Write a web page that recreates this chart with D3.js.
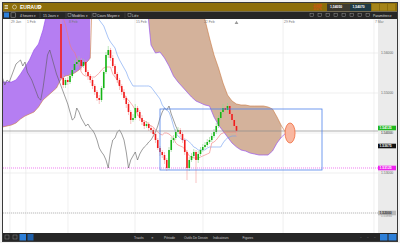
<!DOCTYPE html>
<html><head><meta charset="utf-8">
<script src="https://cdn.jsdelivr.net/npm/d3@7"></script>
<style>
html,body{margin:0;padding:0;background:#fff;}
svg{display:block;font-family:"Liberation Sans",Arial,sans-serif;}
</style></head><body>
<svg id="chart" width="400" height="243"></svg>
<script>
// 4h candles, bar index 0..78
const opens = [1.56725,1.55375,1.55200,1.55325,1.55275,1.55425,1.55575,1.55725,1.55775,1.55825,1.55675,1.55775,1.55525,1.55425,1.55325,1.55175,1.55025,1.54875,1.54825,1.55125,1.55525,1.55950,1.56075,1.55875,1.55675,1.55475,1.55325,1.55175,1.55025,1.54875,1.54725,1.54525,1.54325,1.54375,1.54625,1.54525,1.54375,1.54275,1.54175,1.54225,1.54125,1.54075,1.53975,1.53825,1.53625,1.53525,1.53450,1.53325,1.53125,1.53575,1.53825,1.53875,1.54025,1.54075,1.53975,1.53825,1.53525,1.53125,1.53325,1.53425,1.53525,1.53325,1.53475,1.53575,1.53650,1.53700,1.53775,1.53825,1.53925,1.54025,1.54175,1.54375,1.54525,1.54625,1.54575,1.54675,1.54475,1.54325,1.54175];
const closes = [1.55375,1.55200,1.55325,1.55275,1.55425,1.55575,1.55725,1.55775,1.55825,1.55675,1.55775,1.55525,1.55425,1.55325,1.55175,1.55025,1.54875,1.54825,1.55125,1.55525,1.55950,1.56075,1.55875,1.55675,1.55475,1.55325,1.55175,1.55025,1.54875,1.54725,1.54525,1.54325,1.54375,1.54625,1.54525,1.54375,1.54275,1.54175,1.54225,1.54125,1.54075,1.53975,1.53825,1.53625,1.53525,1.53450,1.53325,1.53125,1.53575,1.53825,1.53875,1.54025,1.54075,1.53975,1.53825,1.53525,1.53125,1.53325,1.53425,1.53525,1.53325,1.53475,1.53575,1.53650,1.53700,1.53775,1.53825,1.53925,1.54025,1.54175,1.54375,1.54525,1.54625,1.54575,1.54675,1.54475,1.54325,1.54175,1.54050];
const highs = [1.56875,1.55475,1.55375,1.55400,1.55500,1.55625,1.55825,1.55875,1.55925,1.55875,1.55850,1.55825,1.55575,1.55475,1.55375,1.55225,1.55075,1.54950,1.55175,1.55575,1.56025,1.56175,1.56125,1.55950,1.55725,1.55525,1.55375,1.55225,1.55100,1.54925,1.54775,1.54575,1.54475,1.54725,1.54675,1.54575,1.54450,1.54325,1.54300,1.54275,1.54200,1.54125,1.54025,1.53875,1.53675,1.53575,1.53525,1.53375,1.53650,1.53900,1.53950,1.54100,1.54150,1.54125,1.54025,1.53875,1.53575,1.53400,1.53500,1.53600,1.53575,1.53550,1.53650,1.53725,1.53775,1.53850,1.53900,1.54000,1.54100,1.54250,1.54450,1.54625,1.54725,1.54700,1.54750,1.54725,1.54525,1.54375,1.54225];
const lows = [1.55325,1.55125,1.55125,1.55200,1.55225,1.55375,1.55525,1.55650,1.55700,1.55575,1.55625,1.55450,1.55325,1.55250,1.55100,1.54950,1.54800,1.54725,1.54775,1.55075,1.55475,1.55875,1.55800,1.55625,1.55400,1.55250,1.55075,1.54950,1.54825,1.54625,1.54450,1.54225,1.54275,1.54325,1.54425,1.54300,1.54200,1.54100,1.54125,1.54050,1.54000,1.53900,1.53750,1.53575,1.53425,1.53375,1.53225,1.53050,1.53075,1.53525,1.53750,1.53825,1.53975,1.53900,1.53750,1.53450,1.52825,1.53050,1.53275,1.53375,1.52750,1.53250,1.53425,1.53525,1.53600,1.53650,1.53725,1.53775,1.53875,1.53975,1.54125,1.54325,1.54475,1.54500,1.54500,1.54400,1.54250,1.54100,1.53925];

// Ichimoku: tenkan / kijun per bar
const tenkan = [1.56950,1.56875,1.56700,1.56450,1.56200,1.56075,1.56025,1.55875,1.55700,1.55525,1.55450,1.55425,1.55425,1.55400,1.55400,1.55400,1.55450,1.55500,1.55575,1.55625,1.55650,1.55650,1.55650,1.55475,1.55400,1.55325,1.55175,1.55125,1.54975,1.54875,1.54825,1.54750,1.54675,1.54575,1.54475,1.54375,1.54325,1.54300,1.54275,1.54225,1.54175,1.54150,1.54075,1.54025,1.53975,1.53950,1.54000,1.54000,1.53975,1.53925,1.53875,1.53750,1.53700,1.53675,1.53650,1.53600,1.53525,1.53425,1.53400,1.53375,1.53375,1.53375,1.53400,1.53425,1.53450,1.53475,1.53500,1.53750,1.53775,1.53825,1.53900,1.53975,1.54000,1.54025,1.54025,1.54025,1.54025,1.54025,1.54025];
const kijun = [1.57200,1.57200,1.57200,1.57200,1.57200,1.57200,1.57200,1.57200,1.57200,1.57200,1.57200,1.57200,1.57200,1.57200,1.57200,1.57200,1.56950,1.56825,1.56750,1.56675,1.56525,1.56375,1.56275,1.56200,1.56125,1.55950,1.55825,1.55725,1.55625,1.55525,1.55375,1.55275,1.55175,1.55175,1.55175,1.55175,1.55175,1.55175,1.55175,1.55175,1.55150,1.55075,1.55000,1.54925,1.54850,1.54700,1.54625,1.54575,1.54525,1.54375,1.54175,1.54000,1.53925,1.53875,1.53825,1.53825,1.53825,1.53775,1.53725,1.53650,1.53625,1.53575,1.53575,1.53575,1.53575,1.53625,1.53650,1.53650,1.53650,1.53650,1.53650,1.53650,1.53750,1.53825,1.53875,1.53900,1.53925,1.53925,1.53925];

// cloud (senkou spans), bar index incl. 26-bar shift
const cloudIdx = [-26,-24,-22,-20,-18,-16,-14,-12,-10,-8,-6,-4,-2,0,2,4,6,8,10,12,13,14,20,30,38,39,40,42,44,46,48,50,52,54,56,58,60,62,63,64,66,68,70,72,74,76,78,80,82,84,86,88,90,92,94,96,98,100];
const spanA = [1.55275,1.55275,1.55275,1.55325,1.55475,1.55650,1.55825,1.56075,1.56225,1.56575,1.57075,1.57325,1.57450,1.57450,1.57450,1.57450,1.57450,1.57450,1.57450,1.57450,1.57450,1.57525,1.57575,1.57575,1.57575,1.56775,1.56200,1.56000,1.56025,1.55875,1.55675,1.55425,1.55275,1.55150,1.55025,1.54900,1.54800,1.54750,1.54725,1.54700,1.54675,1.54400,1.54200,1.54050,1.53900,1.53750,1.53650,1.53575,1.53550,1.53500,1.53475,1.53450,1.53450,1.53450,1.53550,1.53750,1.53900,1.54000];
const spanB = [1.54150,1.54175,1.54200,1.54250,1.54350,1.54425,1.54475,1.54525,1.54650,1.54825,1.54925,1.55025,1.55125,1.55350,1.55425,1.55450,1.55500,1.55575,1.55700,1.55800,1.55875,1.57575,1.58075,1.58075,1.58075,1.58075,1.58075,1.58075,1.58075,1.58075,1.58075,1.58075,1.58075,1.57950,1.57825,1.57700,1.57575,1.57450,1.57075,1.56825,1.56375,1.55950,1.55625,1.55250,1.54950,1.54800,1.54725,1.54700,1.54700,1.54675,1.54675,1.54675,1.54675,1.54650,1.54600,1.54400,1.54175,1.54000];

// axis ticks
const priceTicks = [1.52, 1.53, 1.54, 1.55, 1.56];
const dateTicks = [-22.7, -15.6, 3.1, 32.9, 63.1, 98.7, 139.1];
const dateLabels = ["29 Jan", "1 Feb", "8 Feb", "15 Feb", "22 Feb", "29 Feb", "7 Mar"];

// drawings
const lastLine = 1.54050;
const boxIdx = [44, 116], boxPrice = [1.54600, 1.53075];
const ellipseAt = [101.8, 1.54000];
const magentaLevel = 1.53125, grayLevel = 1.52000;

const svg = d3.select("#chart");
const P = {left: 3, right: 378, top: 19, bottom: 233};

const x = d3.scaleLinear().domain([0, 78]).range([61, 236.5]);
const y = d3.scaleLinear().domain([1.52, 1.56]).range([213, 53]);

// window chrome
svg.append("rect").attr("x", 0).attr("y", 0).attr("width", 400).attr("height", 243).attr("fill", "#f2f2f2");
svg.append("rect").attr("x", 2.5).attr("y", 2.5).attr("width", 395).attr("height", 239).attr("fill", "#fff").attr("stroke", "#3a3a3a");
svg.append("rect").attr("x", 3).attr("y", 3).attr("width", 394).attr("height", 8.5).attr("fill", "#8d6e0a");
svg.append("rect").attr("x", 3).attr("y", 11.5).attr("width", 394).attr("height", 7.5).attr("fill", "#262626");
svg.append("rect").attr("x", P.right).attr("y", P.top).attr("width", 397 - P.right).attr("height", P.bottom - P.top).attr("fill", "#ebebeb");
svg.append("rect").attr("x", 3).attr("y", 233).attr("width", 394).attr("height", 8).attr("fill", "#262626");

svg.append("defs").append("clipPath").attr("id", "plotclip")
    .append("rect").attr("x", P.left).attr("y", P.top).attr("width", P.right - P.left).attr("height", P.bottom - P.top);
const g = svg.append("g").attr("clip-path", "url(#plotclip)");

// grid
g.selectAll(".hgrid").data(priceTicks).enter().append("line")
    .attr("x1", P.left).attr("x2", P.right)
    .attr("y1", d => y(d)).attr("y2", d => y(d))
    .attr("stroke", "#e4e4e4").attr("stroke-width", 0.6);
g.selectAll(".vgrid").data(dateTicks).enter().append("line")
    .attr("x1", d => x(d)).attr("x2", d => x(d))
    .attr("y1", P.top).attr("y2", P.bottom)
    .attr("stroke", "#e4e4e4").attr("stroke-width", 0.6);

// cloud: split in runs where spanA is above / below spanB
const cpts = cloudIdx.map((j, k) => ({j: j, a: spanA[k], b: spanB[k]}));
let runs = [], cur = null;
cpts.forEach(p => {
    const up = p.a >= p.b;
    if (!cur || cur.up !== up) { cur = {up: up, pts: []}; runs.push(cur); }
    cur.pts.push(p);
});
const area = d3.area().x(d => x(d.j)).y0(d => y(d.b)).y1(d => y(d.a));
runs.forEach(r => {
    g.append("path").datum(r.pts).attr("d", area)
        .attr("fill", r.up ? "#b57ef2" : "#d4b29b");
});
g.append("path").datum(cpts)
    .attr("d", d3.line().x(d => x(d.j)).y(d => y(d.a)))
    .attr("fill", "none").attr("stroke", "#9a55ee").attr("stroke-width", 0.7);
g.append("path").datum(cpts)
    .attr("d", d3.line().x(d => x(d.j)).y(d => y(d.b)))
    .attr("fill", "none").attr("stroke", "#c9773f").attr("stroke-width", 0.6);

// reference lines
g.append("line").attr("x1", P.left).attr("x2", P.right)
    .attr("y1", y(magentaLevel)).attr("y2", y(magentaLevel))
    .attr("stroke", "#f27ff2").attr("stroke-width", 1.1).attr("stroke-dasharray", "1,1");
g.append("line").attr("x1", P.left).attr("x2", P.right)
    .attr("y1", y(grayLevel)).attr("y2", y(grayLevel))
    .attr("stroke", "#aaa").attr("stroke-width", 0.7).attr("stroke-dasharray", "1,1");

// chikou span (closes shifted back 26 bars)
g.append("path").datum(closes)
    .attr("d", d3.line().x((d, i) => x(i - 26)).y(d => y(d)))
    .attr("fill", "none").attr("stroke", "#5a5a5a").attr("stroke-width", 0.6);

// kijun / tenkan
g.append("path").datum(kijun)
    .attr("d", d3.line().x((d, i) => x(i)).y(d => y(d)))
    .attr("fill", "none").attr("stroke", "#6f9ef2").attr("stroke-width", 0.6);
g.append("path").datum(tenkan)
    .attr("d", d3.line().x((d, i) => x(i)).y(d => y(d)))
    .attr("fill", "none").attr("stroke", "#f27a7a").attr("stroke-width", 0.6);

// candles
const bars = d3.range(closes.length);
g.selectAll(".wick").data(bars).enter().append("line")
    .attr("x1", i => x(i)).attr("x2", i => x(i))
    .attr("y1", i => y(highs[i])).attr("y2", i => y(lows[i]))
    .attr("stroke", i => closes[i] >= opens[i] ? "#8fd88f" : "#f59a9a")
    .attr("stroke-width", 0.6);
g.selectAll(".body").data(bars).enter().append("rect")
    .attr("x", i => x(i) - 0.8).attr("width", 1.6)
    .attr("y", i => y(Math.max(opens[i], closes[i])))
    .attr("height", i => Math.max(0.6, Math.abs(y(opens[i]) - y(closes[i]))))
    .attr("fill", i => closes[i] >= opens[i] ? "#15b515" : "#f01c1c");

// horizontal price line
g.append("line").attr("x1", P.left).attr("x2", P.right)
    .attr("y1", y(lastLine)).attr("y2", y(lastLine))
    .attr("stroke", "#8a8a8a").attr("stroke-width", 0.7);

// box and ellipse
g.append("rect")
    .attr("x", x(boxIdx[0])).attr("y", y(boxPrice[0]))
    .attr("width", x(boxIdx[1]) - x(boxIdx[0])).attr("height", y(boxPrice[1]) - y(boxPrice[0]))
    .attr("fill", "none").attr("stroke", "#4f82ea").attr("stroke-width", 0.8);
g.append("ellipse")
    .attr("cx", x(ellipseAt[0])).attr("cy", y(ellipseAt[1]))
    .attr("rx", 5).attr("ry", 10)
    .attr("fill", "#f9b7a0").attr("stroke", "#f06a3a").attr("stroke-width", 0.8);

// current bar marker
svg.append("path").attr("d", d3.symbol(d3.symbolTriangle, 6)())
    .attr("transform", "translate(" + x(78) + ",23)").attr("fill", "#9a9a9a");

// date labels
svg.selectAll(".dlab").data(dateTicks).enter().append("text")
    .attr("x", d => x(d) + 1).attr("y", 22.5)
    .attr("font-size", 3.4).attr("fill", "#777")
    .text((d, k) => dateLabels[k]);

// price axis
svg.selectAll(".plab").data(priceTicks).enter().append("text")
    .attr("x", 381).attr("y", d => y(d) + 1.2)
    .attr("font-size", 3.4).attr("fill", "#666")
    .text(d => d.toFixed(5));

function tag(price, bg, fg, label) {
    svg.append("rect").attr("x", P.right).attr("y", y(price) - 2.3).attr("width", 18).attr("height", 4.6).attr("fill", bg);
    svg.append("text").attr("x", P.right + 1.5).attr("y", y(price) + 1.2)
        .attr("font-size", 3.4).attr("font-weight", "bold").attr("fill", fg).text(label);
}
tag(1.54125, "#1fb81f", "#fff", "1.54125");
svg.append("text").attr("x", 381).attr("y", y(lastLine) + 3.2).attr("font-size", 3).attr("fill", "#777").text("1.54050");
tag(1.53675, "#111", "#fff", "1.53675");
tag(magentaLevel, "#ee22ee", "#fff", "1.53125");
tag(grayLevel, "#b9b9b9", "#333", "1.52000");
svg.append("text").attr("x", 381).attr("y", y(grayLevel) + 4.4).attr("font-size", 3).attr("fill", "#888").text("1.51930");

// title bar
const tb = svg.append("g").attr("fill", "#fff");
[5.5, 7, 8.5].forEach(v => tb.append("rect").attr("x", 4.5).attr("y", v - 0.35).attr("width", 3.5).attr("height", 0.7));
tb.append("circle").attr("cx", 14.5).attr("cy", 7).attr("r", 2).attr("fill", "none").attr("stroke", "#fff").attr("stroke-width", 0.5);
tb.append("text").attr("x", 20).attr("y", 8.8).attr("font-size", 5).attr("font-weight", "bold").text("EURAUD");
tb.append("circle").attr("cx", 40).attr("cy", 6.6).attr("r", 1.2).attr("fill", "none").attr("stroke", "#fff").attr("stroke-width", 0.5);
svg.append("text").attr("x", 313).attr("y", 6.5).attr("font-size", 2.6).attr("fill", "#ff3b1f").text("-0,0089");
svg.append("text").attr("x", 313).attr("y", 9.5).attr("font-size", 2.6).attr("fill", "#ff3b1f").text("-0,57%");
svg.append("rect").attr("x", 327).attr("y", 3.5).attr("width", 23).attr("height", 7.5).attr("fill", "#3d3a30");
svg.append("text").attr("x", 330).attr("y", 8.3).attr("font-size", 3.4).attr("font-weight", "bold").attr("fill", "#fff").text("1,54050");
svg.append("rect").attr("x", 350).attr("y", 3.5).attr("width", 21).attr("height", 7.5).attr("fill", "#1f3b45");
svg.append("text").attr("x", 352.5).attr("y", 8.3).attr("font-size", 3.4).attr("font-weight", "bold").attr("fill", "#fff").text("1,54070");
[372, 380, 388].forEach(v => svg.append("rect").attr("x", v).attr("y", 4).attr("width", 7).attr("height", 6.5).attr("fill", "#a58418"));

// toolbar
svg.append("rect").attr("x", 4).attr("y", 12.5).attr("width", 5).attr("height", 5).attr("fill", "#2d7fd8");
svg.append("rect").attr("x", 11).attr("y", 12.8).attr("width", 4.5).attr("height", 4.4).attr("fill", "none").attr("stroke", "#aaa").attr("stroke-width", 0.5);
const tools = [["4 heures \u25BE", 20], ["15 Jours \u25BE", 43], ["Modèles \u25BE", 72], ["Cours Moyen \u25BE", 97], ["Lié \u25BE", 132]];
tools.forEach(t => svg.append("text").attr("x", t[1]).attr("y", 16.6).attr("font-size", 3.4).attr("fill", "#ddd").text(t[0]));
[40, 66, 92, 125].forEach(v => svg.append("line").attr("x1", v).attr("x2", v).attr("y1", 12.5).attr("y2", 18).attr("stroke", "#555").attr("stroke-width", 0.5));
[68, 93, 128].forEach(v => svg.append("rect").attr("x", v).attr("y", 13.5).attr("width", 3).attr("height", 3).attr("fill", "none").attr("stroke", "#bbb").attr("stroke-width", 0.4));
[310, 318, 326, 334, 342, 350, 358, 366].forEach(v => svg.append("rect").attr("x", v).attr("y", 13.6).attr("width", 3.2).attr("height", 3).attr("fill", "none").attr("stroke", "#aaa").attr("stroke-width", 0.4));
svg.append("text").attr("x", 373).attr("y", 16.6).attr("font-size", 3.2).attr("fill", "#ddd").text("Paramètres \u25BE");

// bottom bar
[5, 13].forEach(v => svg.append("rect").attr("x", v).attr("y", 235).attr("width", 4).attr("height", 4).attr("fill", "none").attr("stroke", "#999").attr("stroke-width", 0.4));
svg.append("rect").attr("x", 19.5).attr("y", 234).attr("width", 6.5).attr("height", 6.5).attr("fill", "#2d7fd8");
svg.append("rect").attr("x", 27.5).attr("y", 234).attr("width", 6).attr("height", 6.5).attr("fill", "#1e5fa8");
const bottom = [["Tracés", 134], ["\u2261", 151.5], ["Période", 164], ["Outils De Dessin", 184], ["Indicateurs", 213], ["Figures", 242.5]];
bottom.forEach(t => svg.append("text").attr("x", t[1]).attr("y", 238.6).attr("font-size", 3.2).attr("fill", "#ccc").text(t[0]));
[360, 367, 374].forEach(v => svg.append("text").attr("x", v).attr("y", 238.6).attr("font-size", 3.2).attr("fill", "#999").text("\u2212"));
svg.append("rect").attr("x", 380).attr("y", 234).attr("width", 7.5).attr("height", 6.5).attr("fill", "#2d7fd8");
svg.append("rect").attr("x", 388.5).attr("y", 234).attr("width", 8).attr("height", 6.5).attr("fill", "#2d7fd8");
</script>
</body></html>
